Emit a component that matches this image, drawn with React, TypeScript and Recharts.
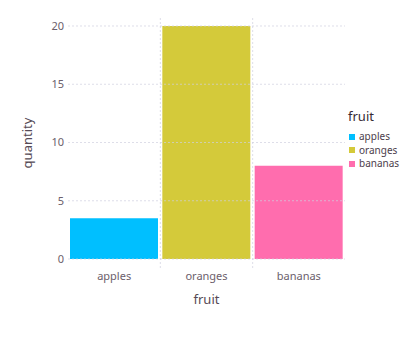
import React from 'react';
import { BarChart, Bar, XAxis, YAxis, CartesianGrid, Cell, ReferenceLine } from 'recharts';

const categories = ['apples', 'oranges', 'bananas'];
const quantities = [3.5, 20, 8];
const colors = ['#00BFFF', '#D4CA3A', '#FF6DAE'];
const yTicks = [0, 5, 10, 15, 20];
const boundaryCategories = ['oranges', 'bananas'];

const data = categories.map((c, i) => ({ fruit: c, quantity: quantities[i] }));

const FONT = '"Noto Sans", sans-serif';

export default function App() {
  return (
    <div style={{ position: 'absolute', left: 0, top: 0, width: 416, height: 340, fontFamily: FONT }}>
      <BarChart
        width={416}
        height={340}
        data={data}
        margin={{ top: 18, right: 71, bottom: 32, left: 8 }}
        barCategoryGap={2}
        style={{ fontFamily: FONT }}
      >
        <CartesianGrid vertical={false} horizontal={false} />
        {yTicks.map((t) => (
          <ReferenceLine key={'h' + t} y={t} stroke="#D0D0E0" strokeDasharray="2 2" strokeWidth={0.7} />
        ))}
        <XAxis
          dataKey="fruit"
          height={40}
          tickSize={0}
          tickMargin={4}
          axisLine={false}
          tickLine={false}
          tick={{ fill: '#6c606b', fontSize: 11 }}
          label={{ value: 'fruit', position: 'insideBottom', offset: 4, fill: '#564a55', fontSize: 13 }}
        />
        <YAxis
          width={60}
          type="number"
          domain={[-0.7725, 20.687]}
          allowDataOverflow
          ticks={yTicks}
          tickSize={0}
          tickMargin={4}
          axisLine={false}
          tickLine={false}
          tick={{ fill: '#6c606b', fontSize: 11 }}
          label={{ value: 'quantity', angle: -90, position: 'insideLeft', offset: 19, fill: '#564a55', fontSize: 13, style: { textAnchor: 'middle' } }}
        />
        {boundaryCategories.map((c) => (
          <ReferenceLine key={c} x={c} position="start" stroke="#D0D0E0" strokeDasharray="2 2" strokeWidth={0.7} />
        ))}
        <Bar dataKey="quantity" isAnimationActive={false}>
          {data.map((d, i) => (
            <Cell key={d.fruit} fill={colors[i]} />
          ))}
        </Bar>
      </BarChart>
      <div style={{ position: 'absolute', left: 348, top: 108, fontSize: 13, lineHeight: '16px', color: '#362a35' }}>fruit</div>
      {categories.map((c, i) => (
        <div
          key={c}
          style={{
            position: 'absolute',
            left: 349,
            top: 130 + i * 13.5,
            height: 13.5,
            display: 'flex',
            alignItems: 'center',
            fontSize: 10,
            lineHeight: '13.5px',
            color: '#4c404b',
            whiteSpace: 'nowrap',
          }}
        >
          <span style={{ display: 'inline-block', width: 6, height: 6, background: colors[i], marginRight: 4 }} />
          {c}
        </div>
      ))}
    </div>
  );
}
